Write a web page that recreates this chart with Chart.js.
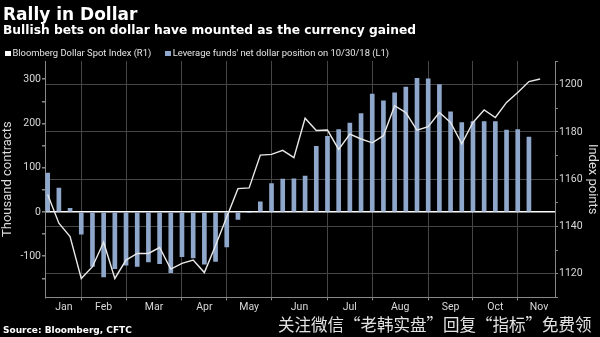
<!DOCTYPE html>
<html>
<head>
<meta charset="utf-8">
<script src="https://cdn.jsdelivr.net/npm/chart.js@4.4.0/dist/chart.umd.min.js"></script>
<style>
html,body{margin:0;padding:0;background:#000;}
#wrap{position:relative;width:600px;height:337px;background:#000;overflow:hidden;}
#c{position:absolute;left:0;top:0;}
.t{position:absolute;white-space:nowrap;line-height:1;}
#title{left:3px;top:4px;font:bold 17px "DejaVu Sans";color:#fff;}
#subtitle{left:3px;top:23px;font:bold 12.25px "DejaVu Sans";color:#fff;}
#legend{left:5px;top:47px;font:9.4px Roboto;color:#e6e6e6;}
#legend span.box{display:inline-block;width:5.5px;height:5.5px;margin-right:2px;vertical-align:0px;}
#source{left:3px;top:325px;font:bold 9px "DejaVu Sans";color:#fff;}
#wm{left:278px;top:312px;font:16.5px "Noto Sans CJK SC";color:#e2e2e2;}
</style>
</head>
<body>
<div id="wrap">
<canvas id="c" width="600" height="337"></canvas>
<div class="t" id="title">Rally in Dollar</div>
<div class="t" id="subtitle">Bullish bets on dollar have mounted as the currency gained</div>
<div class="t" id="legend"><span class="box" style="background:#ffffff"></span>Bloomberg Dollar Spot Index (R1)<span style="display:inline-block;width:14px"></span><span class="box" style="background:#8fa7cb"></span>Leverage funds' net dollar position on 10/30/18 (L1)</div>
<div class="t" id="source">Source: Bloomberg, CFTC</div>
<div class="t" id="wm">关注微信“老韩实盘”回复“指标”免费领</div>
</div>
<script>
// Weekly data, Jan 2018 - Oct/Nov 2018 (week index 0..)
const months = ['Jan','Feb','Mar','Apr','May','Jun','Jul','Aug','Sep','Oct','Nov'];
const monthLabelWeek = [1.45,5,9.5,14,18,22.5,27,31.5,36,40,43.9];
const monthStartWeek = [3,7,12,16,20,25,29,34,38,42];

// Leverage funds' net dollar position, thousand contracts (L1)
const netPosition = [88,54,8,-50,-123,-147,-128,-120,-123,-113,-117,-137,-101,-104,-118,-112,-79,-17,-1,23,64,74,75,81,148,171,186,201,222,266,251,269,282,302,301,288,226,202,204,204,204,185,186,169];

// Bloomberg Dollar Spot Index (R1)
const dollarIndex = [1153.5,1141.4,1135.7,1118,1123,1133.3,1118,1125.8,1128.6,1128.6,1131.1,1122,1124.4,1125.8,1120.5,1132,1144,1156,1156.3,1170.2,1170.5,1172.2,1169.1,1185.8,1180.6,1180.8,1172.6,1179.1,1177,1175.4,1178.4,1191.1,1188.2,1180.7,1182.2,1188.2,1184,1175,1184,1189.3,1186.1,1192.5,1196.7,1201.3,1202.4];

const leftTicks = [-150,-100,-50,0,50,100,150,200,250,300];
const rightTicks = [1110,1120,1130,1140,1150,1160,1170,1180,1190,1200,1210];

const labelMap = new Map(monthLabelWeek.map((w,i)=>[w,months[i]]));
const isStart = v => monthStartWeek.includes(v);
const tickFont = {family:'Roboto', size:10.5};

new Chart(document.getElementById('c'), {
  type: 'bar',
  data: {
    datasets: [
      {
        type: 'line',
        label: 'Bloomberg Dollar Spot Index (R1)',
        data: dollarIndex.map((v,i)=>({x:i,y:v})),
        yAxisID: 'y1',
        borderColor: '#e8e8e8',
        borderWidth: 1.4,
        pointRadius: 0,
        tension: 0,
        order: 0
      },
      {
        label: "Leverage funds' net dollar position on 10/30/18 (L1)",
        data: netPosition.map((v,i)=>({x:i,y:v})),
        yAxisID: 'y',
        backgroundColor: '#8fa7cb',
        barThickness: 4,
        order: 1
      }
    ]
  },
  options: {
    responsive: false,
    animation: false,
    layout: {padding: {top: 61, left: 0, right: 0, bottom: 22}},
    plugins: {legend: {display: false}, tooltip: {enabled: false}},
    scales: {
      x: {
        type: 'linear',
        offset: false,
        min: -0.24,
        max: 45.33,
        afterBuildTicks: s => { s.ticks = [...monthStartWeek, ...monthLabelWeek].sort((a,b)=>a-b).map(v=>({value:v})); },
        ticks: {
          autoSkip: false, maxRotation: 0, padding: 1,
          color: '#d8d8d8', font: tickFont,
          callback: v => labelMap.has(v) ? labelMap.get(v) : ''
        },
        grid: {
          offset: false,
          color: ctx => (ctx.tick && isStart(ctx.tick.value)) ? '#454545' : 'rgba(0,0,0,0)',
          tickColor: ctx => (ctx.tick && isStart(ctx.tick.value)) ? '#888' : 'rgba(0,0,0,0)',
          tickLength: 3
        },
        border: {color: '#888'}
      },
      y: {
        position: 'left',
        min: -193,
        max: 341,
        afterBuildTicks: s => { s.ticks = leftTicks.map(v=>({value:v})); },
        afterFit: s => { s.width = 45; },
        ticks: {
          padding: 1, color: '#d8d8d8', font: tickFont,
          callback: v => v % 100 === 0 ? v : ''
        },
        grid: {
          color: ctx => (ctx.tick && ctx.tick.value === 0) ? '#ffffff' : 'rgba(0,0,0,0)',
          lineWidth: 1.5,
          tickColor: '#888',
          tickLength: 3
        },
        border: {color: '#888'},
        title: {display: true, text: 'Thousand contracts', color: '#dddddd', font: {family:'Roboto', size:13}, padding: {top:0, bottom:0}}
      },
      y1: {
        position: 'right',
        min: 1110,
        max: 1210,
        afterBuildTicks: s => { s.ticks = rightTicks.map(v=>({value:v})); },
        afterFit: s => { s.width = 45; },
        ticks: {
          padding: 1, color: '#d8d8d8', font: tickFont,
          callback: v => v % 20 === 0 ? v : ''
        },
        grid: {
          color: ctx => (ctx.tick && ctx.tick.value % 20 === 0 && ctx.tick.value < 1210) ? '#454545' : 'rgba(0,0,0,0)',
          tickColor: '#888',
          tickLength: 3
        },
        border: {color: '#888'},
        title: {display: true, text: 'Index points', color: '#dddddd', font: {family:'Roboto', size:13}, padding: {top:0, bottom:0}}
      }
    }
  }
});
</script>
</body>
</html>
